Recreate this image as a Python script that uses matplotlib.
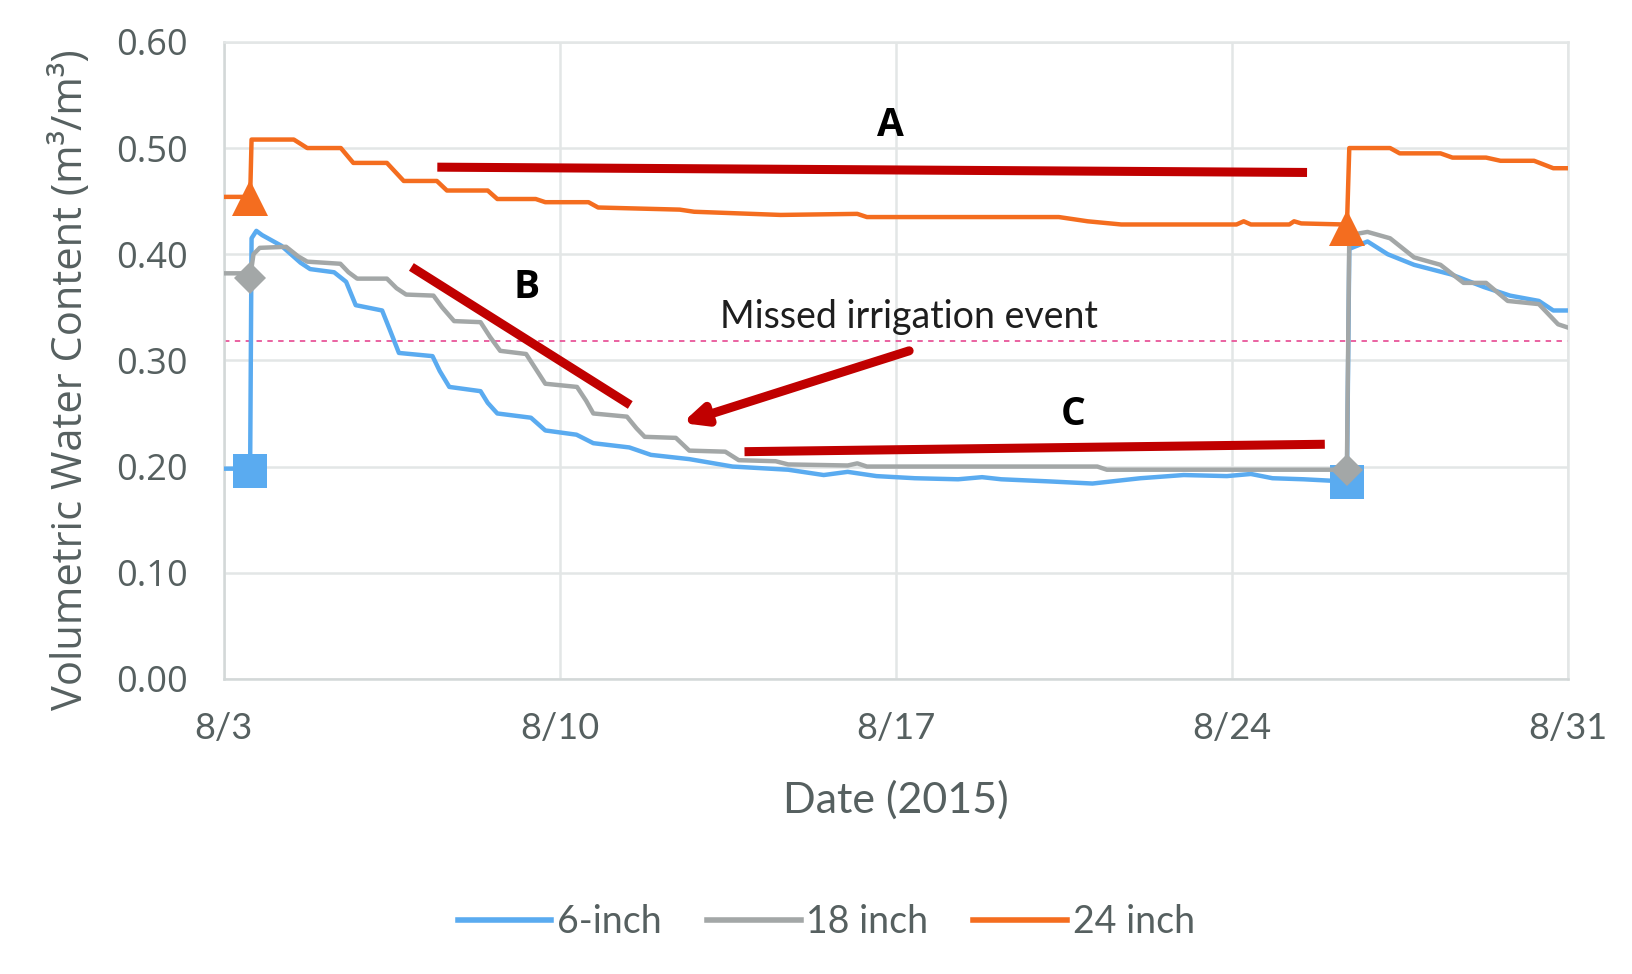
import matplotlib
matplotlib.use("Agg")
import matplotlib.pyplot as plt

# days after 8/3 00:00
tick_days = [0, 7, 14, 21, 28]
tick_labels = ["8/3", "8/10", "8/17", "8/24", "8/31"]
y_ticks = [0.0, 0.1, 0.2, 0.3, 0.4, 0.5, 0.6]

# 6-inch sensor
t_6in = [0.00, 0.50, 0.55, 0.58, 0.68, 0.80, 1.20, 1.60, 1.80, 2.30, 2.55, 2.75, 3.30, 3.45,
         3.65, 4.35, 4.50, 4.70, 5.35, 5.50, 5.70, 6.40, 6.70, 7.35, 7.70, 8.45, 8.90, 9.70,
         10.60, 11.76, 12.50, 13.00, 13.60, 14.40, 15.30, 15.80, 16.20, 17.20, 18.10, 18.50,
         19.10, 20.00, 20.90, 21.40, 21.85, 22.50, 23.35, 23.40, 23.45, 23.83, 24.25, 24.80,
         25.57, 26.26, 26.80, 27.40, 27.70, 28.00]
v_6in = [0.198, 0.198, 0.196, 0.415, 0.422, 0.418, 0.408, 0.392, 0.386, 0.383, 0.374, 0.352,
         0.347, 0.330, 0.307, 0.304, 0.290, 0.275, 0.271, 0.260, 0.250, 0.246, 0.234, 0.230,
         0.222, 0.218, 0.211, 0.207, 0.200, 0.197, 0.192, 0.195, 0.191, 0.189, 0.188, 0.190,
         0.188, 0.186, 0.184, 0.186, 0.189, 0.192, 0.191, 0.193, 0.189, 0.188, 0.186, 0.185,
         0.405, 0.412, 0.400, 0.390, 0.381, 0.369, 0.361, 0.356, 0.347, 0.347]

# 18 inch sensor
t_18in = [0.00, 0.50, 0.55, 0.62, 0.75, 1.30, 1.55, 1.74, 2.43, 2.60, 2.78, 3.40, 3.60, 3.80,
          4.37, 4.55, 4.80, 5.35, 5.55, 5.76, 6.30, 6.50, 6.70, 7.36, 7.55, 7.70, 8.40, 8.60,
          8.77, 9.42, 9.70, 10.45, 10.73, 11.50, 11.76, 13.00, 13.20, 13.40, 18.20, 18.40,
          23.35, 23.40, 23.45, 23.83, 24.30, 24.80, 25.35, 25.83, 26.30, 26.75, 27.40, 27.80,
          28.00]
v_18in = [0.382, 0.382, 0.378, 0.400, 0.406, 0.407, 0.398, 0.393, 0.391, 0.383, 0.377, 0.377,
          0.368, 0.362, 0.361, 0.350, 0.337, 0.336, 0.322, 0.309, 0.306, 0.292, 0.278, 0.275,
          0.262, 0.250, 0.247, 0.236, 0.228, 0.227, 0.215, 0.214, 0.206, 0.205, 0.202, 0.201,
          0.203, 0.200, 0.200, 0.197, 0.197, 0.197, 0.418, 0.421, 0.415, 0.397, 0.390, 0.373,
          0.373, 0.356, 0.353, 0.334, 0.331]

# 24 inch sensor
t_24in = [0.00, 0.50, 0.55, 0.58, 1.46, 1.74, 2.44, 2.70, 3.40, 3.75, 4.44, 4.65, 5.50, 5.70,
          6.50, 6.70, 7.60, 7.80, 9.50, 9.80, 11.60, 13.20, 13.40, 17.40, 18.00, 18.70, 21.10,
          21.25, 21.40, 22.20, 22.30, 22.45, 23.35, 23.40, 23.45, 24.30, 24.50, 25.35, 25.60,
          26.30, 26.60, 27.30, 27.70, 28.00]
v_24in = [0.454, 0.454, 0.453, 0.508, 0.508, 0.500, 0.500, 0.486, 0.486, 0.469, 0.469, 0.460,
          0.460, 0.452, 0.452, 0.449, 0.449, 0.444, 0.442, 0.440, 0.437, 0.438, 0.435, 0.435,
          0.431, 0.428, 0.428, 0.431, 0.428, 0.428, 0.431, 0.429, 0.428, 0.425, 0.500, 0.500,
          0.495, 0.495, 0.491, 0.491, 0.488, 0.488, 0.481, 0.481]

# irrigation events (markers)
event_days = [0.55, 23.40]
event_6in = [0.196, 0.185]
event_18in = [0.378, 0.197]
event_24in = [0.453, 0.425]

threshold = 0.318

blue = "#5aabf0"
gray = "#a3a7a7"
orange = "#f46d1f"
red = "#c00000"
txt = "#566060"

fig = plt.figure(figsize=(16.33, 9.74), dpi=100)
ax = fig.add_axes([0.137, 0.303, 0.823, 0.654])

ax.plot(t_6in, v_6in, color=blue, lw=3.2, label="6-inch", zorder=3)
ax.plot(event_days, event_6in, "s", color=blue, ms=24, mew=0, zorder=3)
ax.plot(t_18in, v_18in, color=gray, lw=3.2, label="18 inch", zorder=4)
ax.plot(event_days, event_18in, "D", color=gray, ms=16, mew=0, zorder=4)
ax.plot(t_24in, v_24in, color=orange, lw=3.2, label="24 inch", zorder=5)
ax.plot(event_days, event_24in, "^", color=orange, ms=26, mew=0, zorder=5)

ax.axhline(threshold, color="#e8569a", lw=1.3, ls=(0, (3, 3)), zorder=2)

# annotation bars
ax.plot([4.45, 22.57], [0.482, 0.477], color=red, lw=6.5, solid_capstyle="butt", zorder=6)
ax.plot([3.91, 8.47], [0.388, 0.258], color=red, lw=6.5, solid_capstyle="butt", zorder=6)
ax.plot([10.85, 22.94], [0.214, 0.221], color=red, lw=6.5, solid_capstyle="butt", zorder=6)
ax.annotate("", xy=(9.55, 0.241), xytext=(14.28, 0.309),
            arrowprops=dict(arrowstyle="-|>,head_length=1.3,head_width=0.6",
                            color=red, lw=6.5, shrinkA=0, shrinkB=0), zorder=6)
bold = dict(fontsize=28, fontweight="bold", family="Open Sans", ha="center", va="center")
ax.text(13.9, 0.521, "A", **bold)
ax.text(6.3, 0.369, "B", **bold)
ax.text(17.7, 0.249, "C", **bold)
ax.text(14.28, 0.341, "Missed irrigation event", fontsize=27, family="Lato",
        ha="center", va="center", color="#1e1e1e")

ax.set_xlim(0, 28)
ax.set_ylim(0, 0.6)
ax.set_xticks(tick_days)
ax.set_xticklabels(tick_labels, family="Lato", fontsize=26, color=txt)
ax.set_yticks(y_ticks)
ax.set_yticklabels([f"{v:.2f}" for v in y_ticks], family="Open Sans", fontsize=26, color=txt)
ax.tick_params(length=0)
ax.tick_params(axis="y", pad=26)
ax.tick_params(axis="x", pad=24)
ax.grid(True, color="#e3e6e6", lw=1.8)
ax.set_axisbelow(True)
for s in ax.spines.values():
    s.set_color("#e3e6e6")
    s.set_linewidth(1.8)
ax.spines["bottom"].set_color("#d3d8d8")
ax.spines["left"].set_color("#d3d8d8")

ax.set_ylabel("Volumetric Water Content (m³/m³)", family="Open Sans", fontsize=30, color=txt)
ax.yaxis.set_label_coords(-0.098, 0.47)
ax.set_xlabel("Date (2015)", family="Lato", fontsize=31, color=txt)
ax.xaxis.set_label_coords(0.5, -0.16)

leg = fig.legend(loc="center", bbox_to_anchor=(0.506, 0.053), ncol=3, frameon=False,
                 prop={"family": "Lato", "size": 27}, handlelength=2.5, columnspacing=1.2,
                 handletextpad=0.15)
for line in leg.get_lines():
    line.set_linewidth(4)
for text in leg.get_texts():
    text.set_color(txt)

fig.savefig("out.png", dpi=100)
